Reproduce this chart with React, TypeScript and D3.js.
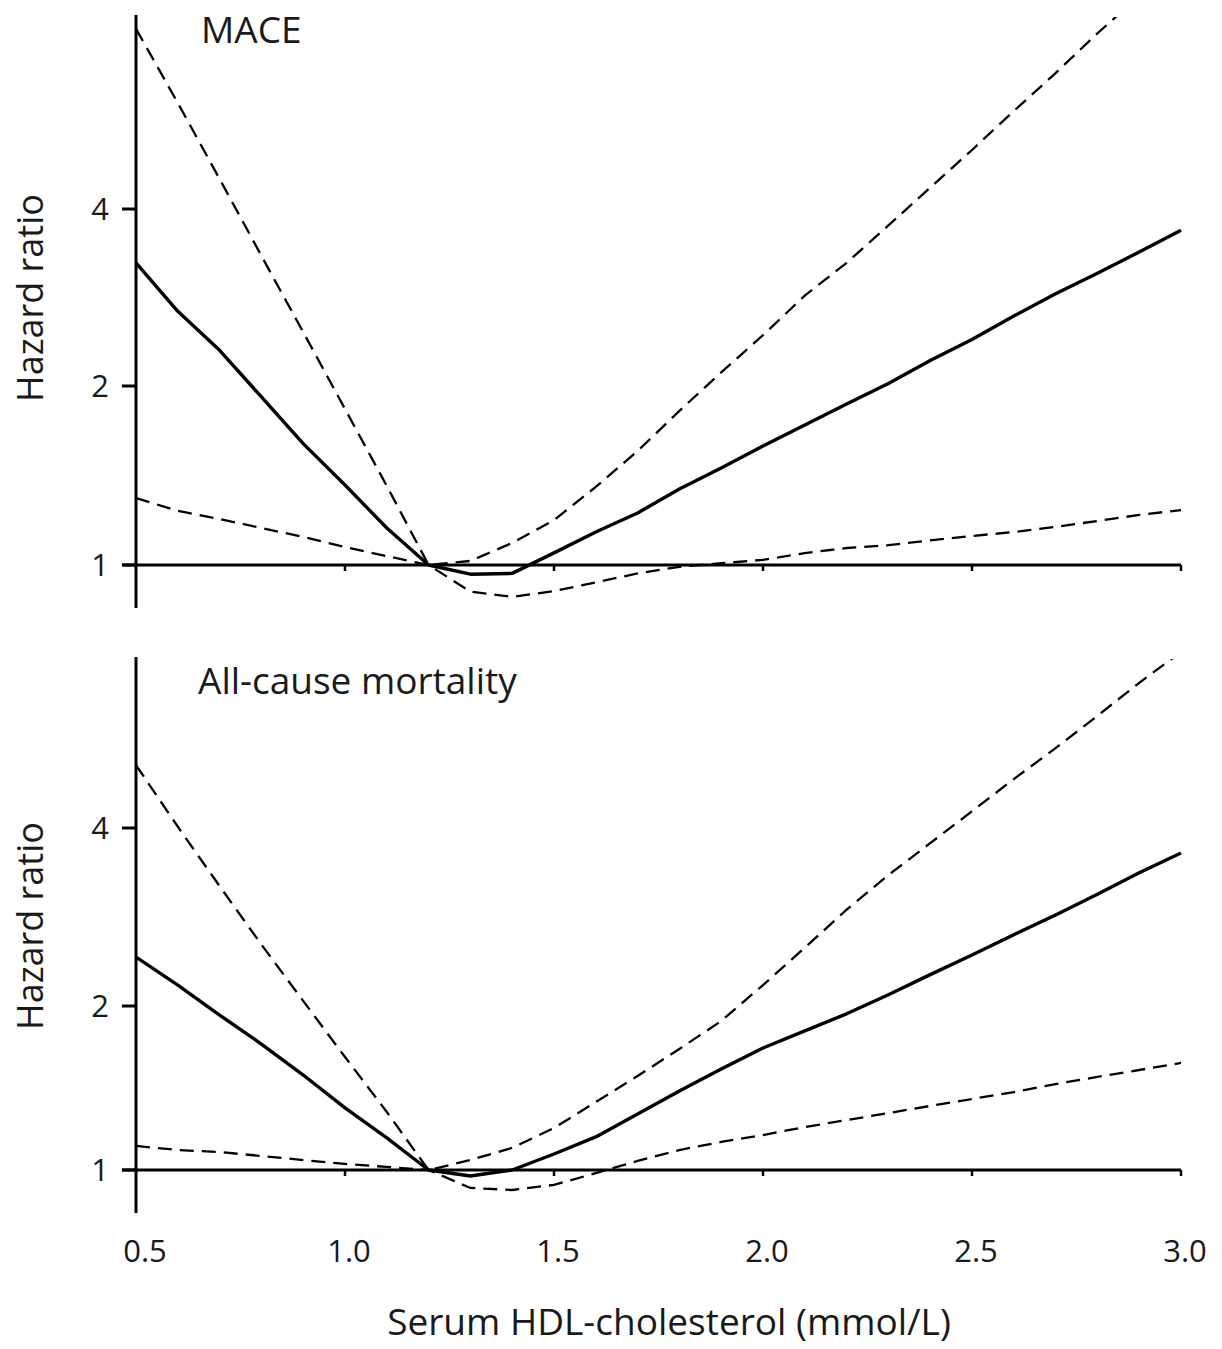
import React from "react";
import * as d3 from "d3";

// ---- data ----
const hdl = [0.5, 0.6, 0.7, 0.8, 0.9, 1.0, 1.1, 1.2, 1.3, 1.4, 1.5, 1.6, 1.7, 1.8, 1.9, 2.0, 2.1, 2.2, 2.3, 2.4, 2.5, 2.6, 2.7, 2.8, 2.9, 3.0];

const maceHR = [3.24, 2.68, 2.3, 1.917, 1.6, 1.363, 1.154, 1.0, 0.965, 0.968, 1.048, 1.136, 1.223, 1.342, 1.456, 1.585, 1.719, 1.865, 2.02, 2.21, 2.4, 2.63, 2.87, 3.11, 3.38, 3.68];
const maceUpper = [8.1, 6.06, 4.5, 3.33, 2.47, 1.83, 1.358, 1.0, 1.016, 1.089, 1.19, 1.353, 1.555, 1.816, 2.11, 2.44, 2.85, 3.24, 3.75, 4.35, 5.04, 5.87, 6.81, 7.96, 9.2, 10.6];
const maceLower = [1.296, 1.233, 1.195, 1.154, 1.115, 1.072, 1.035, 1.0, 0.902, 0.884, 0.904, 0.935, 0.968, 0.993, 1.007, 1.02, 1.047, 1.068, 1.08, 1.1, 1.119, 1.136, 1.159, 1.186, 1.214, 1.237];

const mortHR = [2.42, 2.17, 1.925, 1.703, 1.494, 1.3, 1.145, 1.0, 0.975, 1.0, 1.07, 1.15, 1.267, 1.397, 1.532, 1.675, 1.8, 1.935, 2.09, 2.26, 2.44, 2.64, 2.85, 3.09, 3.36, 3.63];
const mortUpper = [5.11, 4.02, 3.19, 2.54, 2.04, 1.612, 1.278, 1.0, 1.043, 1.098, 1.194, 1.333, 1.488, 1.668, 1.877, 2.17, 2.51, 2.91, 3.33, 3.77, 4.27, 4.84, 5.46, 6.19, 7.04, 7.94];
const mortLower = [1.107, 1.088, 1.079, 1.061, 1.043, 1.026, 1.013, 1.0, 0.927, 0.919, 0.939, 0.987, 1.039, 1.088, 1.126, 1.159, 1.199, 1.235, 1.272, 1.311, 1.35, 1.39, 1.438, 1.482, 1.526, 1.572];

const xTicks = [0.5, 1.0, 1.5, 2.0, 2.5, 3.0];
const yTicks = [1, 2, 4];
const panelTitles = ["MACE", "All-cause mortality"];
const yAxisTitle = "Hazard ratio";
const xAxisTitle = "Serum HDL-cholesterol (mmol/L)";

// ---- layout ----
const W = 1222;
const H = 1349;
const FONT = "'Open Sans', 'Noto Sans', 'DejaVu Sans', sans-serif";
const INK = "#1a1a1a";

const x = d3.scaleLinear().domain([0.5, 3.0]).range([136, 1181]);

type PanelProps = {
  id: string;
  title: string;
  titleX: number;
  titleY: number;
  yRange: number[];
  axisTop: number;
  axisBottom: number;
  labelY: number;
  hr: number[];
  upper: number[];
  lower: number[];
};

function Panel(p: PanelProps) {
  const y = d3.scaleLog().domain(yTicks).range(p.yRange);
  const line = d3
    .line<number>()
    .x((_, i) => x(hdl[i]))
    .y((v) => y(v));
  const y1 = y(1);
  return (
    <g>
      <defs>
        <clipPath id={p.id}>
          <rect x={x(0.5)} y={p.axisTop + 2} width={x(3.0) - x(0.5) + 4} height={p.axisBottom - p.axisTop} />
        </clipPath>
      </defs>
      {/* y axis */}
      <line x1={x(0.5)} x2={x(0.5)} y1={p.axisTop} y2={p.axisBottom} stroke="#000" strokeWidth={3} />
      {/* reference line at HR = 1 */}
      <line x1={x(0.5) - 14} x2={x(3.0)} y1={y1} y2={y1} stroke="#000" strokeWidth={3} />
      {yTicks.map((t) => (
        <g key={t}>
          <line x1={x(0.5) - 14} x2={x(0.5)} y1={y(t)} y2={y(t)} stroke="#000" strokeWidth={3} />
          <text x={109} y={y(t) + 11} textAnchor="end" fontSize={31} fontFamily={FONT} fill={INK}>
            {t}
          </text>
        </g>
      ))}
      {xTicks.slice(1).map((t) => (
        <line key={t} x1={x(t)} x2={x(t)} y1={y1} y2={y1 + 6} stroke="#000" strokeWidth={2.5} />
      ))}
      <g clipPath={`url(#${p.id})`} fill="none" stroke="#000">
        <path d={line(p.upper) || ""} strokeWidth={2.3} strokeDasharray="14,8" />
        <path d={line(p.lower) || ""} strokeWidth={2.3} strokeDasharray="14,8" />
        <path d={line(p.hr) || ""} strokeWidth={3.4} strokeLinejoin="round" />
      </g>
      <text x={p.titleX} y={p.titleY} fontSize={37} fontFamily={FONT} fill={INK}>
        {p.title}
      </text>
      <text
        transform={`translate(43,${p.labelY}) rotate(-90)`}
        textAnchor="middle"
        fontSize={36}
        fontFamily={FONT}
        fill={INK}
      >
        {yAxisTitle}
      </text>
    </g>
  );
}

export default function App() {
  return (
    <svg
      width={W}
      height={H}
      viewBox={`0 0 ${W} ${H}`}
      style={{ position: "absolute", left: 0, top: 0, background: "#fff" }}
    >
      <rect width={W} height={H} fill="#fff" />
      <Panel
        id="clipTop"
        title={panelTitles[0]}
        titleX={201}
        titleY={43}
        yRange={[565, 386, 209]}
        axisTop={15}
        axisBottom={608}
        labelY={298}
        hr={maceHR}
        upper={maceUpper}
        lower={maceLower}
      />
      <Panel
        id="clipBottom"
        title={panelTitles[1]}
        titleX={198}
        titleY={694}
        yRange={[1170, 1006, 828]}
        axisTop={657}
        axisBottom={1213}
        labelY={926}
        hr={mortHR}
        upper={mortUpper}
        lower={mortLower}
      />
      {xTicks.map((t) => (
        <text key={t} x={x(t) + (t === 0.5 ? 9 : 4)} y={1262} textAnchor="middle" fontSize={31} fontFamily={FONT} fill={INK}>
          {t.toFixed(1)}
        </text>
      ))}
      <text x={669} y={1335} textAnchor="middle" fontSize={37} fontFamily={FONT} fill={INK}>
        {xAxisTitle}
      </text>
    </svg>
  );
}
